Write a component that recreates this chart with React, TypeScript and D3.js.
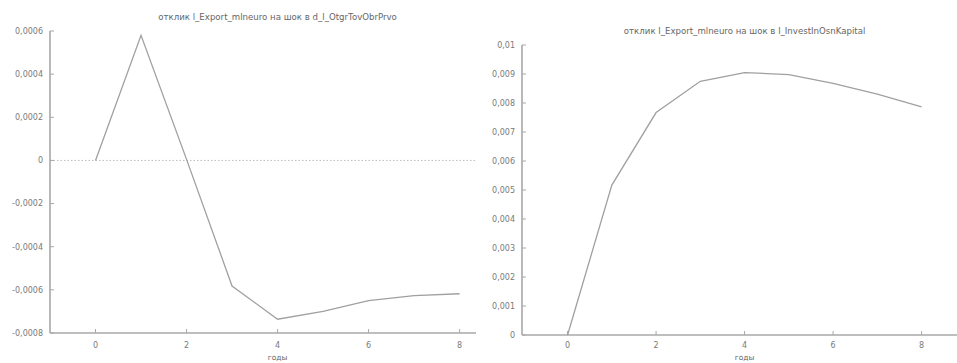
import React from "react";
import * as d3 from "d3";

const periods = [0, 1, 2, 3, 4, 5, 6, 7, 8];
const leftValues = [0, 0.00058, 0.000005, -0.000582, -0.000736, -0.0007, -0.00065, -0.000627, -0.000618];
const rightValues = [0, 0.00517, 0.00767, 0.00875, 0.00905, 0.00898, 0.00868, 0.00831, 0.00787];
const leftYTicks = [-0.0008, -0.0006, -0.0004, -0.0002, 0, 0.0002, 0.0004, 0.0006];
const rightYTicks = [0, 0.001, 0.002, 0.003, 0.004, 0.005, 0.006, 0.007, 0.008, 0.009, 0.01];
const xTicks = [0, 2, 4, 6, 8];
const leftTitle = "отклик l_Export_mlneuro на шок в d_l_OtgrTovObrPrvo";
const rightTitle = "отклик l_Export_mlneuro на шок в l_InvestInOsnKapital";
const xLabel = "годы";

const fmt = (v: number) => {
  if (v === 0) return "0";
  let t: string;
  if (Math.abs(v) === 0.01) t = "0.01";
  else if (Math.abs(v) < 0.001) t = d3.format(".4f")(v);
  else t = d3.format(".3f")(v);
  return t.replace(".", ",").replace("−", "-");
};

type PanelProps = {
  values: number[];
  yTicks: number[];
  title: string;
  x0: number;
  x1: number;
  y0: number;
  y1: number;
  xDomain: [number, number];
  titleY: number;
  zeroLine: boolean;
};

const AXIS = "#a8a8a8";
const LINE = "#a0a0a0";
const TEXT = "#7a7a7a";
const FONT = "DejaVu Sans, sans-serif";

function Panel({ values, yTicks, title, x0, x1, y0, y1, xDomain, titleY, zeroLine }: PanelProps) {
  const x = d3.scaleLinear().domain(xDomain).range([x0, x1]);
  const yMin = d3.min(yTicks)!;
  const yMax = d3.max(yTicks)!;
  const y = d3.scaleLinear().domain([yMin, yMax]).range([y1, y0]);
  const line = d3
    .line<number>()
    .x((_, i) => x(periods[i]))
    .y((d) => y(d));
  return (
    <g>
      <text x={x(4)} y={titleY} dy="0.35em" textAnchor="middle" fontSize={8.6} fill="#666" fontFamily={FONT}>
        {title}
      </text>
      {zeroLine && (
        <line x1={x0} x2={x1} y1={y(0)} y2={y(0)} stroke="#aaa" strokeWidth={0.8} strokeDasharray="1.5,2" />
      )}
      <line x1={x0} x2={x0} y1={y0} y2={y1} stroke={AXIS} strokeWidth={1.6} />
      <line x1={x0} x2={x1} y1={y1} y2={y1} stroke={AXIS} strokeWidth={1.6} />
      {yTicks.map((t) => (
        <g key={t}>
          <line x1={x0} x2={x0 + 4} y1={y(t)} y2={y(t)} stroke={AXIS} strokeWidth={1} />
          <text x={x0 - 7} y={y(t)} dy="0.35em" textAnchor="end" fontSize={8} fill={TEXT} fontFamily={FONT}>
            {fmt(t)}
          </text>
        </g>
      ))}
      {xTicks.map((t) => (
        <g key={t}>
          <line x1={x(t)} x2={x(t)} y1={y1} y2={y1 - 4} stroke={AXIS} strokeWidth={1} />
          <text x={x(t)} y={345} dy="0.35em" textAnchor="middle" fontSize={8} fill={TEXT} fontFamily={FONT}>
            {t}
          </text>
        </g>
      ))}
      <text x={x(4)} y={357} dy="0.35em" textAnchor="middle" fontSize={7.5} fill="#666" fontFamily={FONT}>
        {xLabel}
      </text>
      <path d={line(values) || ""} fill="none" stroke={LINE} strokeWidth={1.3} />
    </g>
  );
}

export default function App() {
  return (
    <svg width={957} height={363} style={{ position: "absolute", left: 0, top: 0, background: "#fff" }}>
      <rect width={957} height={363} fill="#fff" />
      <Panel
        values={leftValues}
        yTicks={leftYTicks}
        title={leftTitle}
        x0={50}
        x1={476}
        y0={31}
        y1={333}
        xDomain={[-1, 8.36]}
        titleY={17}
        zeroLine={true}
      />
      <Panel
        values={rightValues}
        yTicks={rightYTicks}
        title={rightTitle}
        x0={522}
        x1={957}
        y0={45}
        y1={335}
        xDomain={[-1.03, 8.8]}
        titleY={31}
        zeroLine={false}
      />
    </svg>
  );
}
